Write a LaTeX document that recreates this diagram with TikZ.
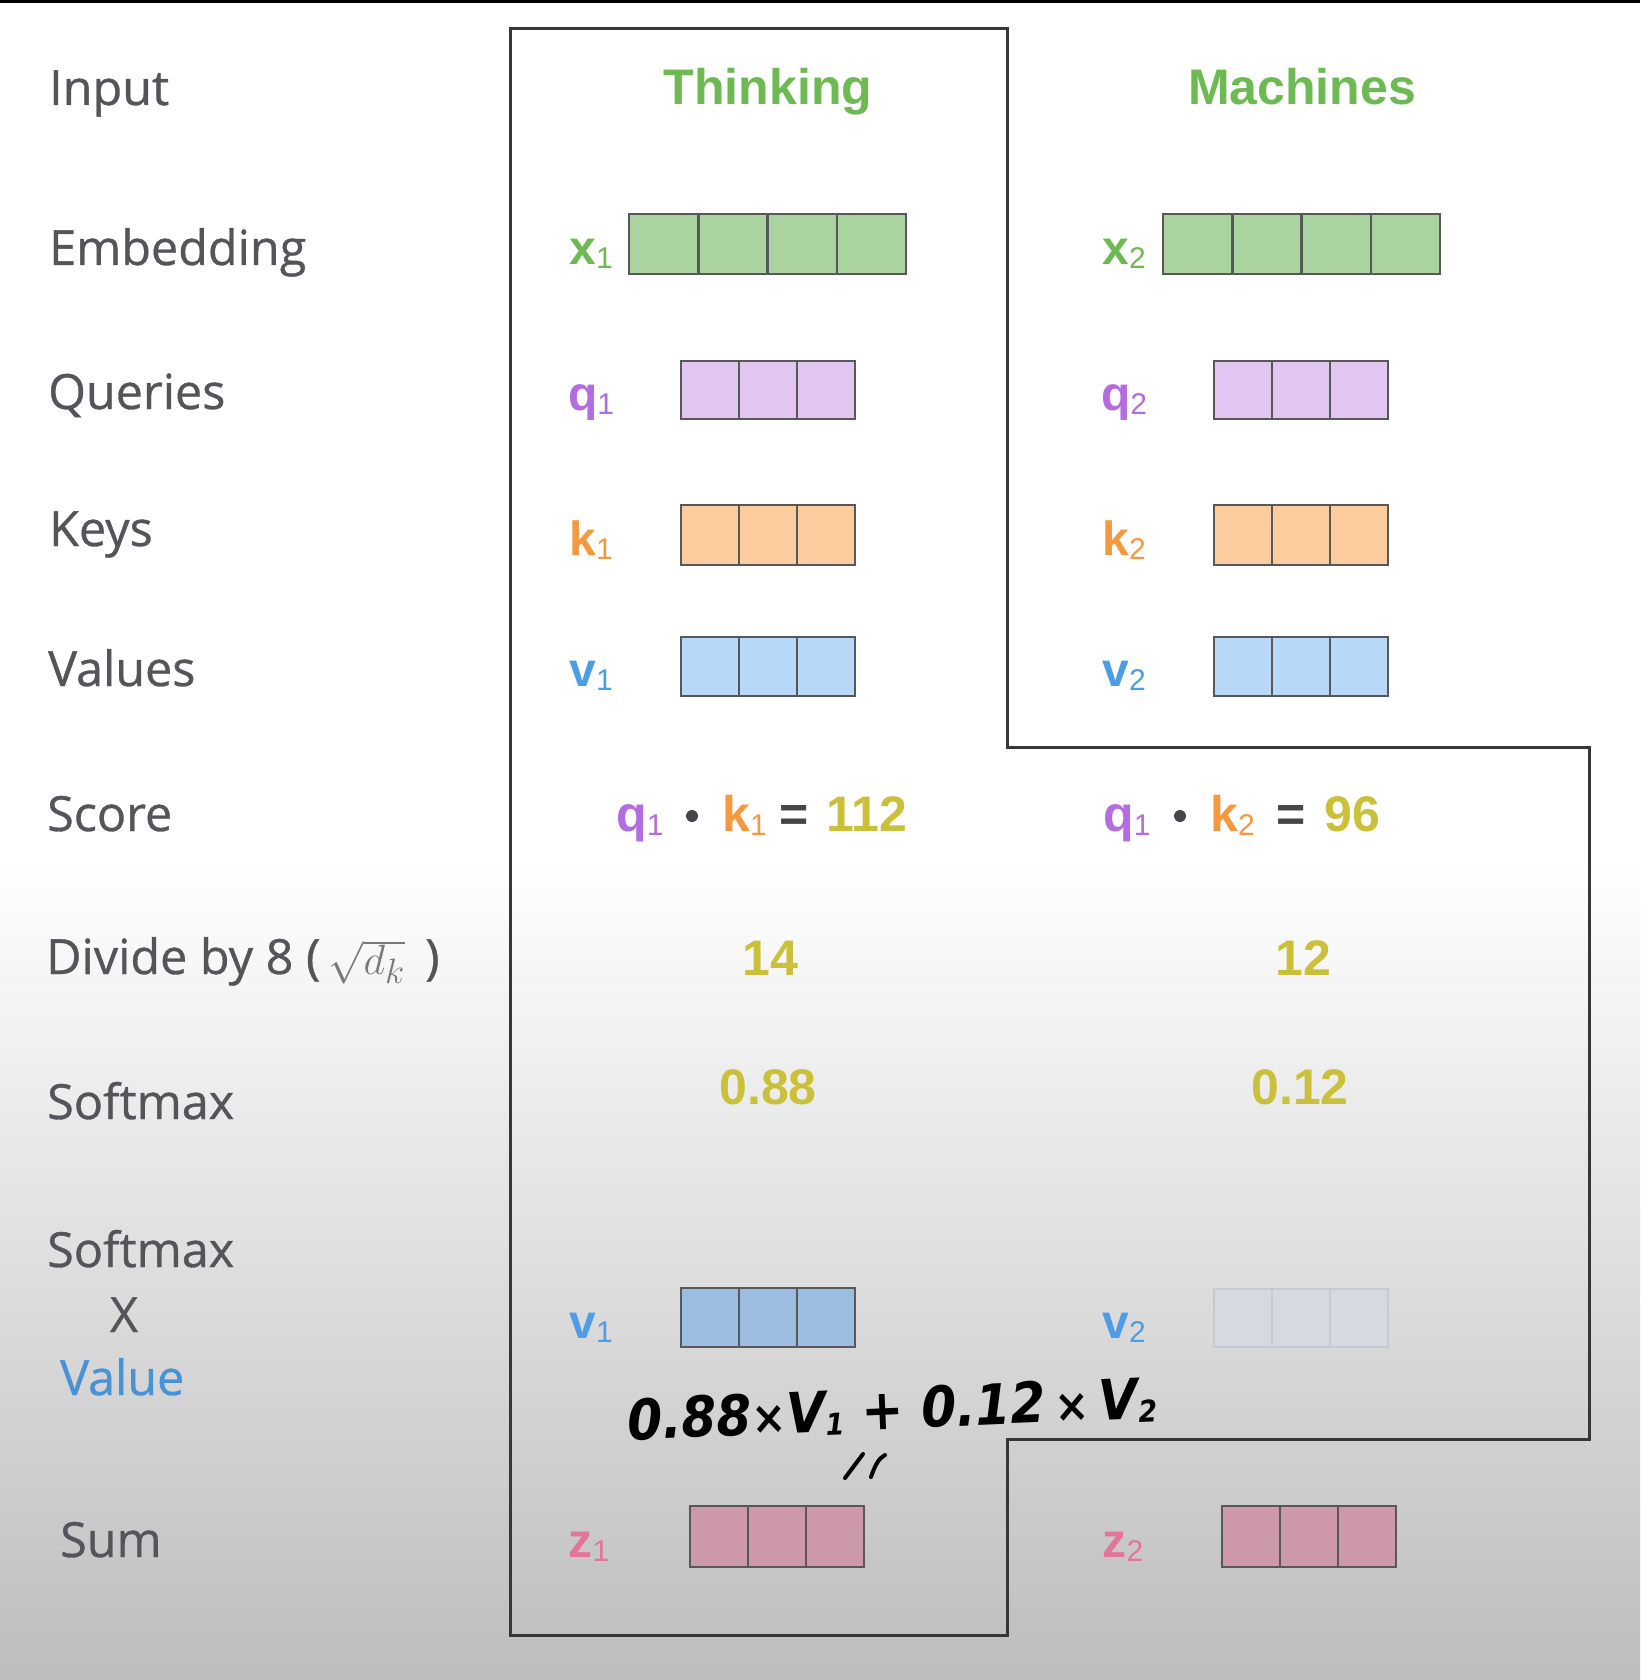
\documentclass[tikz,border=0pt]{standalone}
\usepackage{fontspec}
\setmainfont{Liberation Sans}
\newfontfamily\labfont{Open Sans}[FakeBold=0.7]
\newfontfamily\handfont{DejaVu Sans}[FakeStretch=0.9]
\usetikzlibrary{calc}
\definecolor{labgray}{RGB}{84,85,90}
\definecolor{headgreen}{RGB}{110,186,82}
\definecolor{xfill}{RGB}{169,212,160}
\definecolor{qfill}{RGB}{226,198,242}
\definecolor{qtext}{RGB}{180,108,224}
\definecolor{kfill}{RGB}{251,205,158}
\definecolor{ktext}{RGB}{245,152,62}
\definecolor{vfill}{RGB}{183,216,247}
\definecolor{vtext}{RGB}{76,156,230}
\definecolor{vbfill}{RGB}{155,189,224}
\definecolor{vffill}{RGB}{213,218,226}
\definecolor{vfdraw}{RGB}{198,203,210}
\definecolor{zfill}{RGB}{205,153,170}
\definecolor{ztext}{RGB}{226,118,152}
\definecolor{numcol}{RGB}{202,192,58}
\definecolor{cellgray}{RGB}{88,88,88}
\definecolor{outl}{RGB}{55,55,55}
\definecolor{dotgray}{RGB}{70,70,74}
\definecolor{valblue}{RGB}{72,146,214}
\definecolor{mathgray}{RGB}{120,120,125}
\newcommand\vsub[1]{\raisebox{-4pt}{\fontsize{30}{30}\selectfont\mdseries #1}}
\newcommand\hsub[1]{\raisebox{-4pt}{\fontsize{30}{30}\selectfont #1}}
\tikzset{
  rowlab/.style={font=\labfont\fontsize{48.5}{48.5}\selectfont, text=labgray, anchor=base west, inner sep=0pt},
  head/.style={font=\bfseries\fontsize{50}{50}\selectfont, text=headgreen, anchor=base, inner sep=0pt},
  veclab/.style={font=\bfseries\fontsize{48}{48}\selectfont, anchor=base, inner sep=0pt},
  scoretxt/.style={font=\bfseries\fontsize{50}{50}\selectfont, anchor=base west, inner sep=0pt},
  num/.style={font=\bfseries\fontsize{50}{50}\selectfont, text=numcol, anchor=base, inner sep=0pt},
  cellbox/.style={line width=2.5pt, inner sep=0pt, outer sep=0pt, anchor=north west},
  outline/.style={draw=outl, line width=3pt, line join=miter},
  hand/.style={font=\handfont\bfseries\itshape\fontsize{56}{56}\selectfont, text=black, inner sep=0pt},
  dotnode/.style={circle, fill=dotgray, minimum size=12pt, inner sep=0pt},
}
% #1 name, #2 left, #3 top, #4 width, #5 height, #6 cells, #7 fill, #8 draw
\newcommand\cellrow[8]{%
  \node[cellbox, fill=#7, draw=#8, minimum width=#4pt, minimum height=#5pt] (#1) at (#2,#3) {};
  \pgfmathtruncatemacro\nmone{#6-1}%
  \foreach \i in {1,...,\nmone}{%
    \draw[draw=#8, line width=2.5pt] ($(#1.north west)!{\i/#6}!(#1.north east)$) -- ($(#1.south west)!{\i/#6}!(#1.south east)$);
  }%
}
\begin{document}
\begin{tikzpicture}[x=1pt,y=-1pt]
\useasboundingbox (0,0) rectangle (1640,1680);
\fill[white] (0,0) rectangle (1640,1680);
\shade[top color=white, bottom color={rgb,255:red,189;green,189;blue,189}] (0,860) rectangle (1640,1680);
\fill[black] (0,0) rectangle (1640,3);

% outline
\draw[outline] (510,29) -- (1007,29) -- (1007,747) -- (1589,747) -- (1589,1439) -- (1007,1439) -- (1007,1635) -- (510,1635) -- cycle;

% row labels
\node[rowlab] (lInput) at (49,105) {Input};
\node[rowlab] (lEmb) at (49,265) {Embedding};
\node[rowlab] (lQ) at (48,409) {Queries};
\node[rowlab] (lK) at (49,546) {Keys};
\node[rowlab] (lV) at (48,686) {Values};
\node[rowlab] (lScore) at (47,831) {Score};
\node[rowlab] (lDiv) at (46,974) {Divide by 8 (\,\scalebox{1.7}{\color{mathgray}\Huge$\sqrt{d_k}$}\hspace{20pt})};
\node[rowlab] (lSm) at (47,1119) {Softmax};
\node[rowlab] (lSm2) at (47,1267) {Softmax};
\node[rowlab, anchor=base] (lX) at (124,1332) {X};
\node[rowlab, text=valblue] (lVal) at (60,1395) {Value};
\node[rowlab] (lSum) at (60,1557) {Sum};

% headers
\node[head] (hT) at (768,105) {Thinking};
\node[head] (hM) at (1302,105) {Machines};

% boxes
\cellrow{X1}{629}{214}{277}{60}{4}{xfill}{cellgray}
\cellrow{X2}{1163}{214}{277}{60}{4}{xfill}{cellgray}
\cellrow{Q1}{681}{361}{174}{58}{3}{qfill}{cellgray}
\cellrow{Q2}{1214}{361}{174}{58}{3}{qfill}{cellgray}
\cellrow{K1}{681}{505}{174}{60}{3}{kfill}{cellgray}
\cellrow{K2}{1214}{505}{174}{60}{3}{kfill}{cellgray}
\cellrow{V1}{681}{637}{174}{59}{3}{vfill}{cellgray}
\cellrow{V2}{1214}{637}{174}{59}{3}{vfill}{cellgray}
\cellrow{VB1}{681}{1288}{174}{59}{3}{vbfill}{cellgray}
\cellrow{VB2}{1214}{1289}{174}{58}{3}{vffill}{vfdraw}
\cellrow{Z1}{690}{1506}{174}{61}{3}{zfill}{cellgray}
\cellrow{Z2}{1222}{1506}{174}{61}{3}{zfill}{cellgray}

% vector labels
\node[veclab, text=headgreen] (tx1) at (591,265) {x\vsub{1}};
\node[veclab, text=headgreen] (tx2) at (1124,265) {x\vsub{2}};
\node[veclab, text=qtext] (tq1) at (591,410) {q\vsub{1}};
\node[veclab, text=qtext] (tq2) at (1124,410) {q\vsub{2}};
\node[veclab, text=ktext] (tk1) at (591,555) {k\vsub{1}};
\node[veclab, text=ktext] (tk2) at (1124,555) {k\vsub{2}};
\node[veclab, text=vtext] (tv1) at (591,686) {v\vsub{1}};
\node[veclab, text=vtext] (tv2) at (1124,686) {v\vsub{2}};
\node[veclab, text=vtext] (tvb1) at (591,1338) {v\vsub{1}};
\node[veclab, text=vtext] (tvb2) at (1124,1338) {v\vsub{2}};
\node[veclab, text=ztext] (tz1) at (589,1557) {z\vsub{1}};
\node[veclab, text=ztext] (tz2) at (1123,1557) {z\vsub{2}};

% score row
\node[scoretxt, text=qtext] (s1q) at (616,831) {q\vsub{1}};
\node[dotnode] (s1d) at (692,816) {};
\node[scoretxt, text=ktext] (s1k) at (722,831) {k\vsub{1}};
\node[scoretxt, text=dotgray] (s1e) at (779,831) {=};
\node[num] (s1n) at (867,831) {112};
\node[scoretxt, text=qtext] (s2q) at (1103,831) {q\vsub{1}};
\node[dotnode] (s2d) at (1180,816) {};
\node[scoretxt, text=ktext] (s2k) at (1210,831) {k\vsub{2}};
\node[scoretxt, text=dotgray] (s2e) at (1276,831) {=};
\node[num] (s2n) at (1352,831) {96};

% divide / softmax
\node[num] (d1) at (770,975) {14};
\node[num] (d2) at (1303,975) {12};
\node[num] (p1) at (768,1104) {0.88};
\node[num] (p2) at (1300,1104) {0.12};

% handwriting
\node[hand, rotate=2.4, anchor=base west] (hw) at (628,1440) {0.88{\fontsize{46}{46}\selectfont ×}V\hsub{1} + 0.12\,{\fontsize{46}{46}\selectfont ×}\,V\hsub{2}};
\draw[line width=4pt, line cap=round] (845,1478) -- (863,1454);
\draw[line width=4pt, line cap=round] (871,1477) .. controls (875,1465) and (879,1458) .. (885,1455);
\end{tikzpicture}
\end{document}
